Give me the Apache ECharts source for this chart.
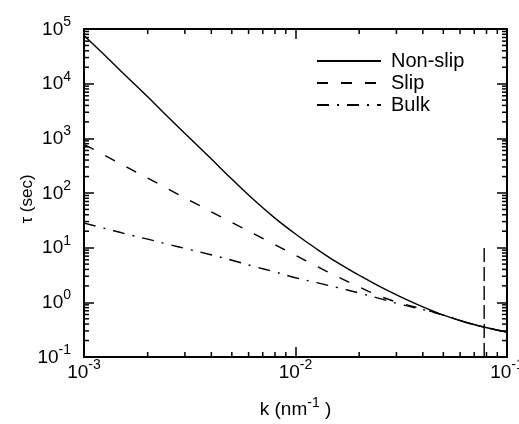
<!DOCTYPE html>
<html>
<head>
<meta charset="utf-8">
<script src="https://cdn.jsdelivr.net/npm/echarts@6/dist/echarts.min.js"></script>
<style>
  html, body { margin: 0; padding: 0; background: #fff; }
  #chart { width: 519px; height: 424px; }
</style>
</head>
<body>
<div id="chart"></div>
<script>
// Wave number k (nm^-1)
const kValues = [0.001, 0.00126, 0.00158, 0.002, 0.00251, 0.00316, 0.00398, 0.00501, 0.00631,
                 0.00794, 0.01, 0.0126, 0.0158, 0.02, 0.0251, 0.0316, 0.0398, 0.0501,
                 0.0631, 0.0794, 0.1];
// Relaxation time tau (sec) for each boundary condition
const tauNonSlip = [75900, 32400, 13800, 5750, 2400, 1010, 427, 178, 76.7,
                    35.5, 17.8, 9.44, 5.31, 3.13, 1.93, 1.245, 0.832, 0.582,
                    0.437, 0.347, 0.285];
const tauSlip    = [776, 484, 302, 188, 117, 73.3, 45.7, 28.8, 18.2,
                    11.5, 7.24, 4.57, 2.95, 1.91, 1.29, 0.955, 0.759, 0.582,
                    0.437, 0.347, 0.285];
const tauBulk    = [28.2, 22.4, 17.8, 14.3, 11.5, 9.23, 7.41, 5.89, 4.57,
                    3.63, 2.82, 2.29, 1.86, 1.48, 1.17, 0.912, 0.741, 0.582,
                    0.437, 0.347, 0.285];
const seriesNames = ['Non-slip', 'Slip', 'Bulk'];

// Vertical marker at the cutoff wave number
const kCutoff = 0.078;
const cutoffTau = [0.1, 10];

// Axis ranges and minor tick mantissas
const xRange = [0.001, 0.1];
const yRange = [0.1, 100000];
const minorMantissas = [2, 3, 4, 5, 6, 7, 8, 9];
const xDecades = [0.001, 0.01];
const yDecades = [0.1, 1, 10, 100, 1000, 10000];

const FONT = '"Liberation Sans", Arial, Helvetica, sans-serif';

const xMinor = [];
xDecades.forEach(d => minorMantissas.forEach(m => xMinor.push(+(d * m).toPrecision(3))));
const yMinor = [];
yDecades.forEach(d => minorMantissas.forEach(m => yMinor.push(+(d * m).toPrecision(3))));

function pair(xs, ys) { return xs.map((x, i) => [x, ys[i]]); }

function powLabel(v) {
  const e = Math.round(Math.log10(v));
  return '{b|10}{s|' + e + '}';
}
const labelRich = {
  b: { fontSize: 19, fontFamily: FONT, color: '#000', verticalAlign: 'bottom', lineHeight: 20 },
  s: { fontSize: 14, fontFamily: FONT, color: '#000', verticalAlign: 'bottom', padding: [0, 0, 10, 0], lineHeight: 14 }
};

const frameLine = { show: true, lineStyle: { color: '#000', width: 2 } };
const majorTick = { show: true, inside: true, length: 10, lineStyle: { color: '#000', width: 1.5 } };

const chart = echarts.init(document.getElementById('chart'), null, { renderer: 'canvas' });

const lineCommon = {
  type: 'line', showSymbol: false, symbol: 'none', smooth: 0.4,
  xAxisIndex: 0, yAxisIndex: 0, silent: true, animation: false
};

chart.setOption({
  animation: false,
  backgroundColor: '#fff',
  grid: { left: 84, right: 12, top: 29, bottom: 67, containLabel: false, outerBoundsMode: 'none' },
  legend: {
    data: seriesNames,
    orient: 'vertical',
    left: 316, top: 51, padding: 0,
    itemWidth: 64, itemHeight: 14, itemGap: 2,
    itemStyle: { opacity: 0 },
    textStyle: { fontSize: 20, lineHeight: 20, fontFamily: FONT, color: '#000', padding: [0, 0, 0, 5] },
    selectedMode: false
  },
  xAxis: [
    {
      type: 'log', logBase: 10, min: xRange[0], max: xRange[1], splitNumber: 2,
      position: 'bottom',
      axisLine: frameLine, axisTick: majorTick, splitLine: { show: false },
      axisLabel: { formatter: powLabel, rich: labelRich, margin: 5, showMinLabel: true, showMaxLabel: true, hideOverlap: false },
      name: '{a|k (nm}{s|-1}{a| )}',
      nameLocation: 'middle', nameGap: 42, nameMoveOverlap: false,
      nameTextStyle: {
        rich: {
          a: { fontSize: 19, fontFamily: FONT, color: '#000', verticalAlign: 'bottom', lineHeight: 20 },
          s: { fontSize: 14, fontFamily: FONT, color: '#000', verticalAlign: 'bottom', padding: [0, 0, 9, 0], lineHeight: 14 }
        }
      }
    },
    {
      type: 'log', logBase: 10, min: xRange[0], max: xRange[1], splitNumber: 2,
      position: 'top',
      axisLine: frameLine, axisTick: majorTick, splitLine: { show: false },
      axisLabel: { show: false }
    }
  ],
  yAxis: [
    {
      type: 'log', logBase: 10, min: yRange[0], max: yRange[1], splitNumber: 6,
      position: 'left',
      axisLine: frameLine, axisTick: majorTick, splitLine: { show: false },
      axisLabel: { formatter: powLabel, rich: labelRich, margin: 13, showMinLabel: true, showMaxLabel: true, hideOverlap: false },
      name: '\u03c4 (sec)',
      nameLocation: 'middle', nameGap: 48, nameRotate: 90, nameMoveOverlap: false,
      nameTextStyle: { fontSize: 17, fontFamily: FONT, color: '#000', padding: [0, 12, 0, 0] }
    },
    {
      type: 'log', logBase: 10, min: yRange[0], max: yRange[1], splitNumber: 6,
      position: 'right',
      axisLine: frameLine, axisTick: majorTick, splitLine: { show: false },
      axisLabel: { show: false }
    }
  ],
  series: [
    Object.assign({}, lineCommon, {
      name: seriesNames[0], data: pair(kValues, tauNonSlip), z: 3,
      lineStyle: { color: '#000', width: 1.4, type: 'solid' },
      itemStyle: { color: '#000' }
    }),
    Object.assign({}, lineCommon, {
      name: seriesNames[1], data: pair(kValues, tauSlip), z: 4,
      lineStyle: { color: '#000', width: 1.4, type: [11, 13] },
      itemStyle: { color: '#000' }
    }),
    Object.assign({}, lineCommon, {
      name: seriesNames[2], data: pair(kValues, tauBulk), z: 4,
      lineStyle: { color: '#000', width: 1.4, type: [12, 8, 2, 8] },
      itemStyle: { color: '#000' }
    }),
    Object.assign({}, lineCommon, {
      name: 'cutoff', smooth: false,
      data: cutoffTau.map(t => [kCutoff, t]),
      lineStyle: { color: '#000', width: 1.4, type: [14, 5] }
    }),
    {
      // minor ticks along bottom and top edges
      type: 'custom', name: 'xMinor', silent: true, clip: false,
      xAxisIndex: 0, yAxisIndex: 0,
      data: xMinor.map(v => [v, yRange[0]]),
      renderItem: function (params, api) {
        const v = api.value(0);
        const b = api.coord([v, yRange[0]]);
        const t = api.coord([v, yRange[1]]);
        const st = { stroke: '#000', lineWidth: 1.5 };
        return { type: 'group', children: [
          { type: 'line', shape: { x1: b[0], y1: b[1], x2: b[0], y2: b[1] - 5 }, style: st },
          { type: 'line', shape: { x1: t[0], y1: t[1], x2: t[0], y2: t[1] + 5 }, style: st }
        ] };
      }
    },
    {
      // minor ticks along left and right edges
      type: 'custom', name: 'yMinor', silent: true, clip: false,
      xAxisIndex: 0, yAxisIndex: 0,
      data: yMinor.map(v => [xRange[0], v]),
      renderItem: function (params, api) {
        const v = api.value(1);
        const l = api.coord([xRange[0], v]);
        const r = api.coord([xRange[1], v]);
        const st = { stroke: '#000', lineWidth: 1.5 };
        return { type: 'group', children: [
          { type: 'line', shape: { x1: l[0], y1: l[1], x2: l[0] + 5, y2: l[1] }, style: st },
          { type: 'line', shape: { x1: r[0], y1: r[1], x2: r[0] - 5, y2: r[1] }, style: st }
        ] };
      }
    }
  ]
});
</script>
</body>
</html>
